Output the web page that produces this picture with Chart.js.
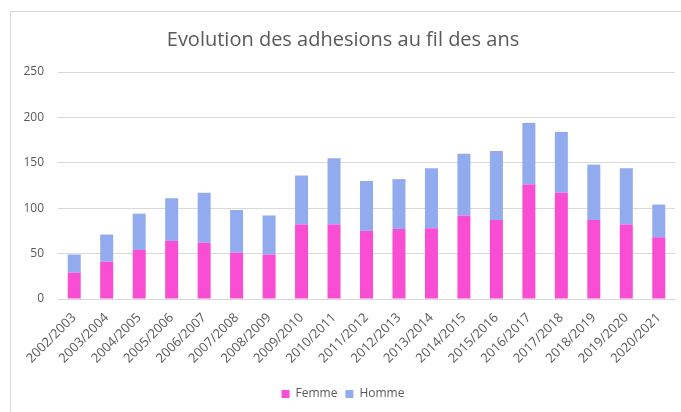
<!DOCTYPE html>
<html lang="fr">
<head>
    <meta charset="UTF-8" />
    <title>Evolution des adhesions</title>
    <script src="https://cdn.jsdelivr.net/npm/chart.js"></script>
    <style>
        html, body { margin: 0; padding: 0; background: #fff; }
        .frame {
            position: absolute; left: 10px; top: 11px;
            width: 671px; height: 401px;
            border-top: 1px solid #d9d9d9; border-left: 1px solid #d9d9d9;
            box-sizing: border-box;
        }
        canvas { display: block; }
    </style>
</head>
<body>
    <div class="frame">
        <canvas id="adhChart" width="670" height="400"></canvas>
    </div>
    <script>
    // saisons
    const labels = ['2002/2003', '2003/2004', '2004/2005', '2005/2006', '2006/2007', '2007/2008',
        '2008/2009', '2009/2010', '2010/2011', '2011/2012', '2012/2013', '2013/2014', '2014/2015',
        '2015/2016', '2016/2017', '2017/2018', '2018/2019', '2019/2020', '2020/2021'];
    const femme = [29, 41, 54, 64, 62, 51, 49, 82, 82, 75, 77, 78, 92, 87, 126, 117, 87, 82, 68];
    const homme = [20, 30, 40, 47, 55, 47, 43, 54, 73, 55, 55, 66, 68, 76, 68, 67, 61, 62, 36];
    const yTicks = [0, 50, 100, 150, 200, 250];

    const grey = '#595959';
    const fontFam = "'Open Sans', sans-serif";

    new Chart(document.getElementById('adhChart'), {
        type: 'bar',
        data: {
            labels: labels,
            datasets: [
                { label: 'Femme', data: femme, backgroundColor: '#f94dd3', barPercentage: 0.4, categoryPercentage: 1 },
                { label: 'Homme', data: homme, backgroundColor: '#92abee', barPercentage: 0.4, categoryPercentage: 1 }
            ]
        },
        options: {
            responsive: false,
            animation: false,
            layout: { padding: { top: 0, right: 6, bottom: 2, left: 0 } },
            plugins: {
                title: {
                    display: true,
                    text: 'Evolution des adhesions au fil des ans',
                    color: grey,
                    font: { family: fontFam, size: 20, weight: 'normal' },
                    padding: { top: 16, bottom: 20 }
                },
                legend: {
                    position: 'bottom',
                    labels: {
                        color: grey, boxWidth: 8, boxHeight: 8, padding: 8,
                        font: { family: fontFam, size: 12 }
                    }
                },
                tooltip: { enabled: false }
            },
            scales: {
                x: {
                    stacked: true,
                    grid: { display: false },
                    border: { color: '#d9d9d9' },
                    ticks: {
                        color: grey, autoSkip: false, maxRotation: 45, minRotation: 45,
                        font: { family: fontFam, size: 13 }
                    },
                    afterFit: (s) => { s.height = 81; }
                },
                y: {
                    stacked: true,
                    min: yTicks[0], max: yTicks[yTicks.length - 1],
                    afterBuildTicks: (s) => { s.ticks = yTicks.map(v => ({ value: v })); },
                    grid: { color: '#d9d9d9', drawTicks: false },
                    border: { display: false },
                    ticks: { color: grey, padding: 14, font: { family: fontFam, size: 12 } },
                    afterFit: (s) => { s.width = 47; }
                }
            }
        }
    });
    </script>
</body>
</html>
